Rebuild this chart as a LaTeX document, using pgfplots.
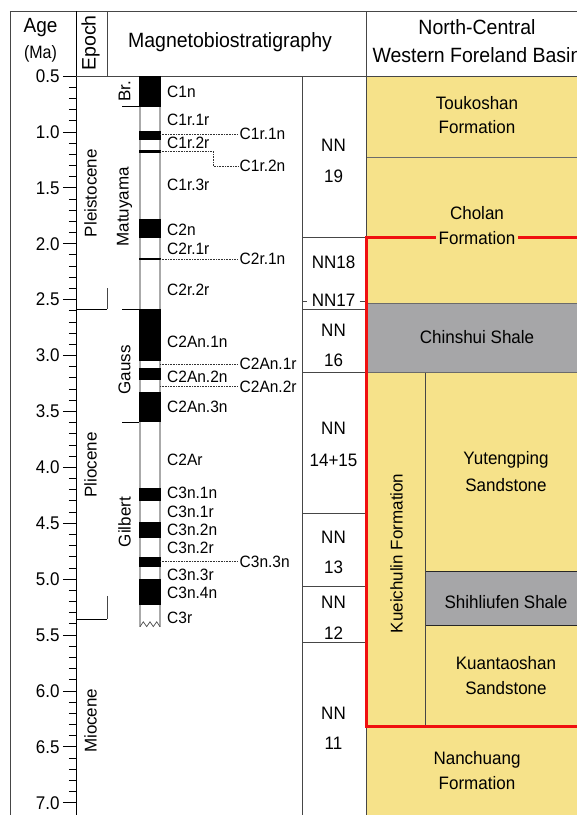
\documentclass[border=0pt]{standalone}
\usepackage{pgfplots}
\pgfplotsset{compat=1.18}
\usepackage{fontspec}
\setmainfont{Liberation Sans}

\definecolor{fmyellow}{RGB}{246,226,138}
\definecolor{shalegray}{RGB}{166,166,168}
\definecolor{framered}{RGB}{240,16,16}
\definecolor{rulegray}{RGB}{70,70,70}
\definecolor{colgray}{RGB}{170,170,170}

\newcommand\fs[1]{\fontsize{#1}{#1}\selectfont}
% filled interval: x-left, x-right, top age, bottom age, style
\newcommand\rect[5]{\addplot[#5] coordinates {(#1,#3) (#2,#3) (#2,#4) (#1,#4)} -- cycle;}
% horizontal segment: x1, x2, age, style
\newcommand\hseg[4]{\addplot[#4] coordinates {(#1,#3) (#2,#3)};}
% vertical segment: x, age1, age2, style
\newcommand\vseg[4]{\addplot[#4] coordinates {(#1,#2) (#1,#3)};}

\begin{document}
\begin{tikzpicture}
\begin{axis}[
  x=1pt, y=111.8pt,
  xmin=76, xmax=577, ymin=0.5, ymax=7.11,
  y dir=reverse,
  clip=false, no marks,
  axis x line=none,
  axis y line=left,
  axis line style={-, line width=0.9pt, black},
  ytick={0.5,1.0,1.5,2.0,2.5,3.0,3.5,4.0,4.5,5.0,5.5,6.0,6.5,7.0},
  minor y tick num=4,
  tick align=outside,
  major tick length=13pt, minor tick length=7pt,
  tick style={black, line width=0.8pt},
  yticklabel style={font=\fs{17}, yscale=1.08},
  /pgf/number format/fixed,
  /pgf/number format/fixed zerofill,
  /pgf/number format/precision=1,
  /pgf/number format/assume math mode=true,
]
% ---------- formation fills ----------
\rect{366}{600}{0.5}{1.2245}{draw=none, fill=fmyellow}
\rect{366}{600}{1.2245}{2.533}{draw=none, fill=fmyellow}
\rect{366}{600}{2.533}{3.154}{draw=none, fill=shalegray}
\rect{366}{425}{3.154}{6.314}{draw=none, fill=fmyellow}
\rect{425}{600}{3.154}{4.934}{draw=none, fill=fmyellow}
\rect{425}{600}{4.934}{5.415}{draw=none, fill=shalegray}
\rect{425}{600}{5.415}{6.314}{draw=none, fill=fmyellow}
\rect{366}{600}{6.314}{7.11}{draw=none, fill=fmyellow}
% formation boundaries
\hseg{366}{600}{1.2245}{rulegray!80, line width=0.8pt}
\hseg{366}{600}{2.533}{rulegray!80, line width=0.8pt}
\hseg{366}{600}{3.154}{rulegray!80, line width=0.8pt}
\hseg{425}{600}{4.934}{black!85, line width=1pt}
\hseg{425}{600}{5.415}{black!85, line width=1pt}
\vseg{425}{3.154}{6.314}{rulegray, line width=0.8pt}

% ---------- frame and column rules ----------
\hseg{10}{600}{-0.081}{rulegray, line width=0.9pt}
\hseg{76}{600}{0.5}{rulegray, line width=0.9pt}
\vseg{10}{-0.081}{7.11}{rulegray, line width=0.9pt}
\vseg{76}{-0.081}{0.5}{black, line width=0.9pt}
\vseg{107}{-0.081}{0.5}{rulegray, line width=0.9pt}
\vseg{107}{2.40}{2.584}{rulegray, line width=0.9pt}
\vseg{107}{5.15}{5.357}{rulegray, line width=0.9pt}
\vseg{302}{0.5}{7.11}{rulegray, line width=0.9pt}
\vseg{366}{-0.081}{7.11}{rulegray, line width=0.9pt}
% epoch boundaries
\hseg{76}{107}{2.584}{black, line width=0.9pt}
\hseg{76}{107}{5.357}{black, line width=0.9pt}
% polarity epoch brackets
\hseg{122}{140}{0.773}{black, line width=0.9pt}
\hseg{122}{160}{2.584}{black, line width=0.9pt}
\hseg{122}{140}{3.596}{black, line width=0.9pt}
% nannofossil zone boundaries
\hseg{302}{366}{1.946}{rulegray, line width=0.8pt}
\hseg{302}{306.5}{2.519}{rulegray, line width=0.8pt}
\hseg{359.5}{366}{2.519}{rulegray, line width=0.8pt}
\hseg{302}{366}{2.585}{rulegray, line width=0.8pt}
\hseg{302}{366}{3.154}{rulegray, line width=0.8pt}
\hseg{302}{366}{4.409}{rulegray, line width=0.8pt}
\hseg{302}{366}{5.062}{rulegray, line width=0.8pt}
\hseg{302}{366}{5.569}{rulegray, line width=0.8pt}

% ---------- polarity column ----------
\vseg{140}{0.5}{5.425}{colgray, line width=1.2pt}
\vseg{160}{0.5}{5.425}{colgray, line width=1.2pt}
\addplot[black!70, line width=0.7pt] coordinates {(140,5.425) (143.3,5.382) (146.7,5.425) (150,5.382) (153.3,5.425) (156.7,5.382) (160,5.425)};
% normal-polarity chrons
\rect{139.4}{160.6}{0.5}{0.773}{draw=none, fill=black}
\rect{139.4}{160.6}{0.988}{1.072}{draw=none, fill=black}
\rect{139.4}{160.6}{1.158}{1.185}{draw=none, fill=black}
\rect{139.4}{160.6}{1.778}{1.945}{draw=none, fill=black}
\rect{139.4}{160.6}{2.128}{2.148}{draw=none, fill=black}
\rect{139.4}{160.6}{2.581}{3.050}{draw=none, fill=black}
\rect{139.4}{160.6}{3.116}{3.220}{draw=none, fill=black}
\rect{139.4}{160.6}{3.330}{3.596}{draw=none, fill=black}
\rect{139.4}{160.6}{4.187}{4.300}{draw=none, fill=black}
\rect{139.4}{160.6}{4.493}{4.631}{draw=none, fill=black}
\rect{139.4}{160.6}{4.799}{4.896}{draw=none, fill=black}
\rect{139.4}{160.6}{4.997}{5.235}{draw=none, fill=black}
% leaders to subchron labels
\hseg{160}{238}{1.019}{black!80, densely dotted, line width=0.6pt}
\addplot[black!80, densely dotted, line width=0.6pt] coordinates {(160,1.171) (213,1.171) (213,1.305) (238,1.305)};
\hseg{160}{238}{2.137}{black!80, densely dotted, line width=0.6pt}
\hseg{160}{238}{3.076}{black!80, densely dotted, line width=0.6pt}
\hseg{160}{238}{3.279}{black!80, densely dotted, line width=0.6pt}
\hseg{160}{238}{4.844}{black!80, densely dotted, line width=0.6pt}

% ---------- red outline of the Kueichulin interval ----------
\addplot[framered, line width=3pt, line join=miter] coordinates {(600,1.946) (366,1.946) (366,6.314) (600,6.314)};

% ---------- header ----------
\node[font=\fs{19}, yscale=1.08] at (axis cs:40.5,0.0707) {Age};
\node[font=\fs{16}, yscale=1.12] at (axis cs:40.5,0.303) {(Ma)};
\node[font=\fs{19.5}, rotate=90] at (axis cs:90.5,0.205) {Epoch};
\node[font=\fs{19.5}, yscale=1.06] at (axis cs:230,0.200) {Magnetobiostratigraphy};
\node[font=\fs{19.5}, yscale=1.06] at (axis cs:477,0.066) {North-Central};
\node[font=\fs{19.5}, yscale=1.06] at (axis cs:477,0.317) {Western Foreland Basin};

% ---------- epochs ----------
\node[font=\fs{17}, rotate=90] at (axis cs:90.5,1.547) {Pleistocene};
\node[font=\fs{17}, rotate=90] at (axis cs:90.5,3.98) {Pliocene};
\node[font=\fs{17}, rotate=90] at (axis cs:90.5,6.267) {Miocene};

% ---------- polarity epochs ----------
\node[font=\fs{17}, rotate=90] at (axis cs:124.5,0.636) {Br.};
\node[font=\fs{17}, rotate=90] at (axis cs:124.5,1.67) {Matuyama};
\node[font=\fs{17}, rotate=90] at (axis cs:124.5,3.13) {Gauss};
\node[font=\fs{17}, rotate=90] at (axis cs:124.5,4.49) {Gilbert};

% ---------- chron labels ----------
\begin{scope}[every node/.style={font=\fs{15.5}, yscale=1.06, anchor=west, inner sep=0pt}]
\node at (axis cs:167,0.643) {C1n};
\node at (axis cs:167,0.894) {C1r.1r};
\node at (axis cs:167,1.099) {C1r.2r};
\node at (axis cs:167,1.475) {C1r.3r};
\node at (axis cs:167,1.877) {C2n};
\node at (axis cs:167,2.047) {C2r.1r};
\node at (axis cs:167,2.414) {C2r.2r};
\node at (axis cs:167,2.877) {C2An.1n};
\node at (axis cs:167,3.192) {C2An.2n};
\node at (axis cs:167,3.461) {C2An.3n};
\node at (axis cs:167,3.935) {C2Ar};
\node at (axis cs:167,4.230) {C3n.1n};
\node at (axis cs:167,4.400) {C3n.1r};
\node at (axis cs:167,4.561) {C3n.2n};
\node at (axis cs:167,4.722) {C3n.2r};
\node at (axis cs:167,4.963) {C3n.3r};
\node at (axis cs:167,5.124) {C3n.4n};
\node at (axis cs:167,5.348) {C3r};
\node at (axis cs:239.5,1.019) {C1r.1n};
\node at (axis cs:239.5,1.305) {C1r.2n};
\node at (axis cs:239.5,2.137) {C2r.1n};
\node at (axis cs:239.5,3.076) {C2An.1r};
\node at (axis cs:239.5,3.279) {C2An.2r};
\node at (axis cs:239.5,4.844) {C3n.3n};
\end{scope}

% ---------- nannofossil zones ----------
\begin{scope}[every node/.style={font=\fs{17}, yscale=1.06}]
\node at (axis cs:333.5,1.117) {NN};
\node at (axis cs:333.5,1.394) {19};
\node at (axis cs:333.5,2.164) {NN18};
\node at (axis cs:333.5,2.504) {NN17};
\node at (axis cs:333.5,2.772) {NN};
\node at (axis cs:333.5,3.040) {16};
\node at (axis cs:333.5,3.648) {NN};
\node at (axis cs:333.5,3.935) {14+15};
\node at (axis cs:333.5,4.623) {NN};
\node at (axis cs:333.5,4.892) {13};
\node at (axis cs:333.5,5.205) {NN};
\node at (axis cs:333.5,5.481) {12};
\node at (axis cs:333.5,6.198) {NN};
\node at (axis cs:333.5,6.466) {11};
\end{scope}

% ---------- formations ----------
\begin{scope}[every node/.style={font=\fs{17}, yscale=1.06}]
\node at (axis cs:477,0.7415) {Toukoshan};
\node at (axis cs:477,0.9606) {Formation};
\node at (axis cs:477,1.725) {Cholan};
\node[fill=fmyellow, inner xsep=3pt, inner ysep=1pt] at (axis cs:477,1.949) {Formation};
\node at (axis cs:477,2.834) {Chinshui Shale};
\node at (axis cs:506,3.935) {Yutengping};
\node at (axis cs:506,4.158) {Sandstone};
\node at (axis cs:506,5.205) {Shihliufen Shale};
\node at (axis cs:506,5.750) {Kuantaoshan};
\node at (axis cs:506,5.974) {Sandstone};
\node at (axis cs:477,6.618) {Nanchuang};
\node at (axis cs:477,6.824) {Formation};
\end{scope}
\node[font=\fs{17}, rotate=90] at (axis cs:396.5,4.77) {Kueichulin Formation};
% page extent
\coordinate (pagesw) at (axis cs:0,7.11);
\coordinate (pagene) at (axis cs:577,-0.1798);
\end{axis}
\pgfresetboundingbox
\useasboundingbox (pagesw) rectangle (pagene);
\end{tikzpicture}
\end{document}
